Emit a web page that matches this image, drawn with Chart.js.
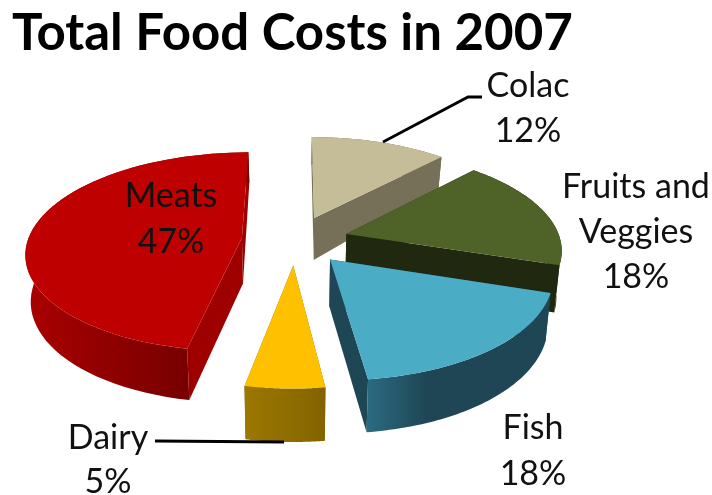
<!DOCTYPE html>
<html>
<head>
<meta charset="utf-8">
<title>Total Food Costs in 2007</title>
<style>
  html, body { margin: 0; padding: 0; background: #fff; }
  canvas { display: block; }
</style>
</head>
<body>
<canvas id="foodCosts" width="712" height="495"></canvas>
<script src="https://cdn.jsdelivr.net/npm/chart.js@4/dist/chart.umd.min.js"></script>
<script>
const categories = ['Colac', ['Fruits and', 'Veggies'], 'Fish', 'Dairy', 'Meats'];
const shares = [12, 18, 18, 5, 47];

const topColors = ['#C4BD97', '#4F6228', '#4BACC6', '#FFC000', '#BE0000'];
const sideColors = ['#757057', '#212810', '#1F4655', '#866600', '#9E0000'];
const rimStops = [
    [[0, '#757057'], [1, '#757057']],
    [[0, '#212810'], [1, '#212810']],
    [[0, '#2B6A80'], [0.32, '#1F4655'], [1, '#1F4655']],
    [[0, '#9C7800'], [1, '#836300']],
    [[0, '#AA0000'], [0.72, '#780000'], [1, '#780000']],
];

// centre x, first baseline, line gap
const labelSpots = [
    [528, 97, 45],
    [636, 198, 45],
    [533, 439, 46],
    [108, 449, 44],
    [171, 207, 46],
];
const leaderLines = [
    [[383, 142], [468, 97], [482, 97]],
    null,
    null,
    [[155, 441], [284, 442]],
    null,
];

const WIDE = 214 / 160;
const TALL = 98 / 160;
const FORESHORTENING = 0.14;

// tilts a point of the flat pie, given relative to the pie centre
const tilt = (el, dx, dy) => {
    const north = -dy / el.outerRadius;
    const d = 1 + FORESHORTENING * north;
    return {x: el.x + WIDE * dx / d, y: el.y + TALL * dy / d};
};

const dropped = (el, p) => {
    const t = p.y - el.y;
    return {
        x: el.x + (p.x - el.x) * 0.98,
        y: p.y + 46 + t * (t < 0 ? 0.18 : 0.05),
    };
};

const fillPoly = (ctx, pts, fill) => {
    ctx.beginPath();
    pts.forEach((p, i) => (i ? ctx.lineTo(p.x, p.y) : ctx.moveTo(p.x, p.y)));
    ctx.closePath();
    ctx.fillStyle = fill;
    ctx.fill();
};

const drawSlice = (ctx, el, i) => {
    const mid = (el.startAngle + el.endAngle) / 2;
    const ox = Math.cos(mid) * el.options.offset;
    const oy = Math.sin(mid) * el.options.offset;
    const tip = tilt(el, ox, oy);
    const rim = [];
    for (let s = 0; s <= 60; s++) {
        const a = el.startAngle + (el.endAngle - el.startAngle) * s / 60;
        rim.push(tilt(el, ox + Math.cos(a) * el.outerRadius, oy + Math.sin(a) * el.outerRadius));
    }
    const first = rim[0];
    const last = rim[rim.length - 1];

    fillPoly(ctx, [tip, first, dropped(el, first), dropped(el, tip)], sideColors[i]);
    fillPoly(ctx, [tip, last, dropped(el, last), dropped(el, tip)], sideColors[i]);

    const xs = rim.map(p => p.x);
    const grad = ctx.createLinearGradient(Math.min(...xs), 0, Math.max(...xs), 0);
    rimStops[i].forEach(([at, c]) => grad.addColorStop(at, c));
    fillPoly(ctx, rim.concat(rim.map(p => dropped(el, p)).reverse()), grad);

    fillPoly(ctx, [tip, ...rim], el.options.backgroundColor);
};

const extrudedPie = {
    id: 'extrudedPie',
    beforeDatasetsDraw(chart) {
        const ctx = chart.ctx;
        ctx.save();
        chart.getDatasetMeta(0).data.forEach((el, i) => drawSlice(ctx, el, i));
        ctx.restore();
        return false;
    },
    afterDraw(chart) {
        const ctx = chart.ctx;
        ctx.save();
        ctx.strokeStyle = '#000';
        ctx.lineWidth = 2.8;
        leaderLines.forEach(line => {
            if (!line) return;
            ctx.beginPath();
            line.forEach(([x, y], k) => (k ? ctx.lineTo(x, y) : ctx.moveTo(x, y)));
            ctx.stroke();
        });
        ctx.fillStyle = '#111';
        ctx.font = '34px Lato';
        ctx.textAlign = 'center';
        categories.forEach((name, i) => {
            const [x, y, gap] = labelSpots[i];
            [].concat(name, shares[i] + '%').forEach((text, k) => ctx.fillText(text, x, y + gap * k));
        });
        ctx.restore();
    },
};

new Chart(document.getElementById('foodCosts'), {
    type: 'doughnut',
    data: {
        labels: categories,
        datasets: [{
            data: shares,
            backgroundColor: topColors,
            borderWidth: 0,
            offset: 40,
        }],
    },
    options: {
        responsive: false,
        animation: false,
        cutout: 0,
        radius: 160,
        layout: {padding: {left: 12, right: 134, bottom: 79}},
        plugins: {
            legend: {display: false},
            tooltip: {enabled: false},
            title: {
                display: true,
                text: 'Total Food Costs in 2007',
                align: 'start',
                color: '#000',
                font: {family: 'Lato', size: 51, weight: 'bold', lineHeight: 1.2},
                padding: {top: 3, bottom: 0},
            },
        },
    },
    plugins: [extrudedPie],
});
</script>
</body>
</html>
